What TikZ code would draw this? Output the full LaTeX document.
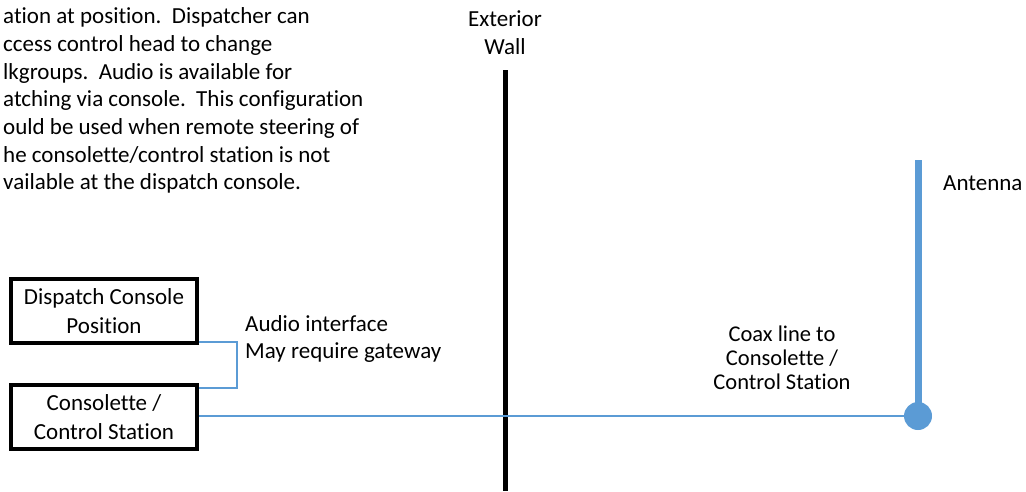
\documentclass[tikz,border=0pt]{standalone}
\usepackage{fontspec}
\setmainfont[Ligatures=NoCommon]{Carlito}
\definecolor{lblue}{HTML}{5B9BD5}
\begin{document}
\begin{tikzpicture}[x=1pt,y=-1pt,
  txt/.style={font=\fontsize{23}{27.7}\selectfont, inner sep=0pt},
  box/.style={draw=black, line width=3.5pt, minimum width=186pt, minimum height=64pt, align=center, font=\fontsize{23}{29}\selectfont, inner sep=0pt},
  wire/.style={draw=lblue, line width=2.2pt}]
\useasboundingbox (0,0) rectangle (1026,491);
\node[txt, anchor=north west, align=left] (note) at (3,7.5)
 {ation at position.\ \ Dispatcher can\\
  ccess control head to change\\
  lkgroups.\ \ Audio is available for\\
  atching via console.\ \ This configuration\\
  ould be used when remote steering of\\
  he consolette/control station is not\\
  vailable at the dispatch console.};
\node[txt, align=center] (extlbl) at (505,33) {Exterior\\Wall};
\coordinate (wtop) at (505,70);
\coordinate (wbot) at (505,491);
\draw[line width=5pt] (wtop) -- (wbot);
\node[box] (dcp) at (104,311) {Dispatch Console\\Position};
\node[box] (cs) at (104,417) {Consolette /\\Control Station};
\coordinate (brk) at (237,342);
\draw[wire] (dcp.east |- brk) -- (brk) -- (brk |- 0,388) -- (cs.east |- 0,388);
\node[txt, anchor=west, align=left] (audio) at (245,339) {Audio interface\\May require gateway};
\node[circle, fill=lblue, minimum size=28pt, inner sep=0pt] (ant) at (918,416) {};
\coordinate (anttop) at (918,160);
\draw[wire] (cs.east |- ant) -- (ant);
\draw[lblue, line width=7pt] (anttop) -- (ant.center);
\node[txt, anchor=west] (antlbl) at (943,183) {Antenna};
\node[txt, align=center, font=\fontsize{22.5}{23.8}\selectfont] (coax) at (782,358) {Coax line to\\Consolette /\\Control Station};
\end{tikzpicture}
\end{document}
